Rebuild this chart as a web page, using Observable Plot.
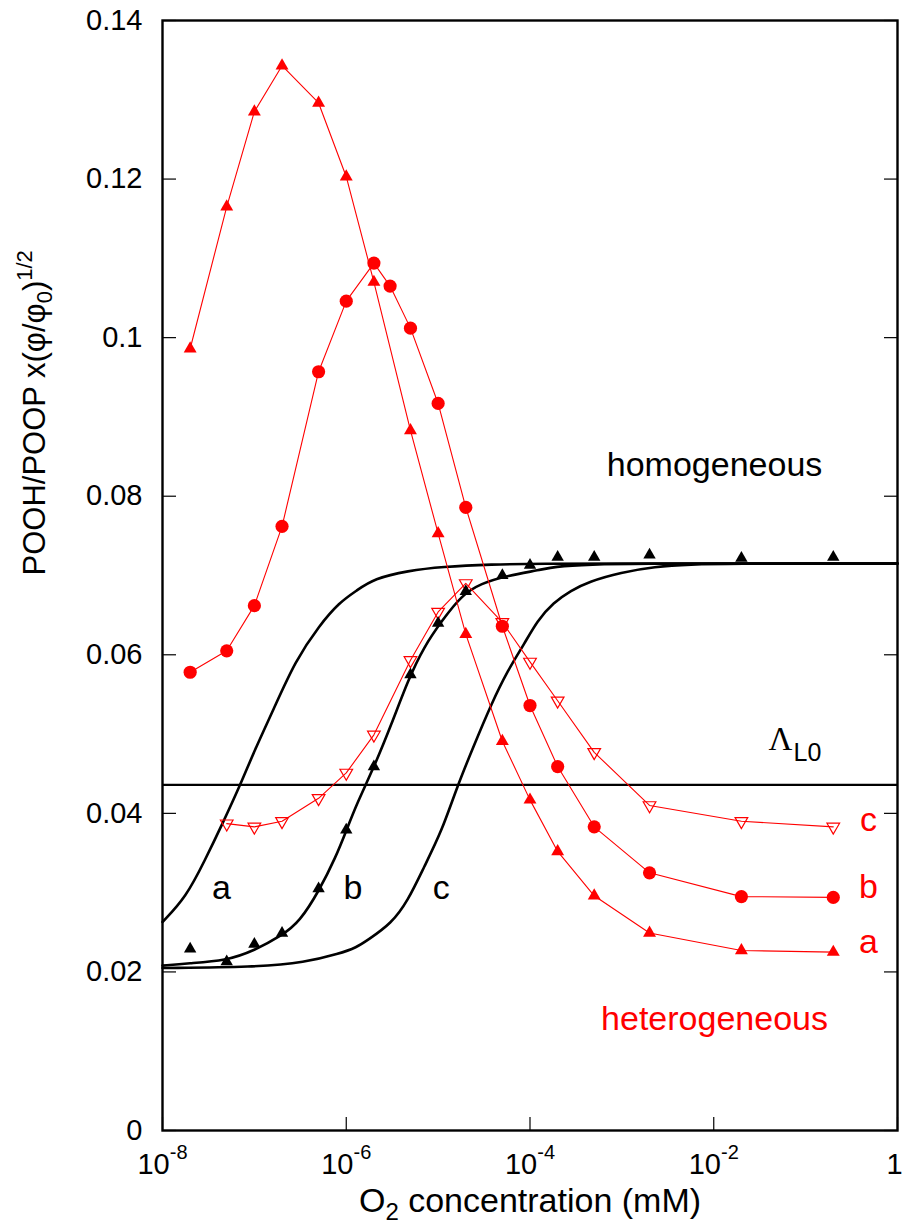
<!DOCTYPE html>
<html><head><meta charset="utf-8">
<script src="https://cdn.jsdelivr.net/npm/d3@7"></script>
<script src="https://cdn.jsdelivr.net/npm/@observablehq/plot@0.6"></script>
<style>body{margin:0;background:#fff;} svg{display:block}</style>
</head><body><div id="chart"></div>
<script>
// ---- data ----
const xTicks = [1e-8, 1e-6, 1e-4, 1e-2, 1];
const xTickLabels = ["10^-8", "10^-6", "10^-4", "10^-2", "1"];
const yTicks = [0, 0.02, 0.04, 0.06, 0.08, 0.1, 0.12, 0.14];
const yTickLabels = ["0", "0.02", "0.04", "0.06", "0.08", "0.1", "0.12", "0.14"];

// heterogeneous a (filled red triangles)
const hetAX = [2e-8, 5e-8, 1e-7, 2e-7, 5e-7, 1e-6, 2e-6, 5e-6, 1e-5, 2e-5, 5e-5, 1e-4, 2e-4, 5e-4, 2e-3, 2e-2, 2e-1];
const hetAY = [0.0986, 0.1165, 0.1285, 0.1343, 0.1296, 0.1203, 0.1070, 0.0883, 0.0753, 0.0626, 0.0491, 0.0417, 0.0352, 0.0296, 0.0249, 0.0227, 0.0225];
// heterogeneous b (filled red circles)
const hetBX = [2e-8, 5e-8, 1e-7, 2e-7, 5e-7, 1e-6, 2e-6, 3e-6, 5e-6, 1e-5, 2e-5, 5e-5, 1e-4, 2e-4, 5e-4, 2e-3, 2e-2, 2e-1];
const hetBY = [0.0578, 0.0605, 0.0662, 0.0762, 0.0957, 0.1046, 0.1094, 0.1065, 0.1012, 0.0917, 0.0786, 0.0636, 0.0536, 0.0459, 0.0383, 0.0325, 0.0295, 0.0294];
// heterogeneous c (open red inverted triangles)
const hetCX = [5e-8, 1e-7, 2e-7, 5e-7, 1e-6, 2e-6, 5e-6, 1e-5, 2e-5, 5e-5, 1e-4, 2e-4, 5e-4, 2e-3, 2e-2, 2e-1];
const hetCY = [0.0387, 0.0383, 0.0390, 0.0419, 0.0451, 0.0499, 0.0593, 0.0654, 0.0690, 0.0641, 0.0591, 0.0542, 0.0477, 0.0410, 0.0390, 0.0383];
// homogeneous data (black triangles)
const homX = [2e-8, 5e-8, 1e-7, 2e-7, 5e-7, 1e-6, 2e-6, 5e-6, 1e-5, 2e-5, 5e-5, 1e-4, 2e-4, 5e-4, 2e-3, 2e-2, 2e-1];
const homY = [0.0229, 0.0213, 0.0235, 0.0249, 0.0305, 0.0379, 0.0459, 0.0575, 0.0640, 0.0680, 0.0700, 0.0713, 0.0723, 0.0723, 0.0726, 0.0722, 0.0723];

// homogeneous model curves a, b, c
const curveAX = [1e-8, 1.8e-8, 2.9e-8, 4.5e-8, 7.1e-8, 1.0e-7, 1.6e-7, 2.8e-7, 5.1e-7, 8.4e-7, 1.3e-6, 2.0e-6, 4.7e-6, 1.1e-5, 3.8e-5, 1.3e-4, 1e-3, 1e-2, 1e-1, 1];
const curveAY = [0.0263, 0.0294, 0.0341, 0.0387, 0.0437, 0.0479, 0.0530, 0.0593, 0.0637, 0.0666, 0.0681, 0.0696, 0.0706, 0.0711, 0.0714, 0.0715, 0.0715, 0.0715, 0.0715, 0.0715];
const curveBX = [1e-8, 1.9e-8, 4.9e-8, 1.0e-7, 2.0e-7, 3.1e-7, 5.1e-7, 7.7e-7, 1.0e-6, 1.3e-6, 2.0e-6, 3.1e-6, 4.7e-6, 7.0e-6, 1.1e-5, 1.8e-5, 2.9e-5, 5.7e-5, 1.3e-4, 1.8e-4, 4.3e-4, 2e-3, 1e-2, 1e-1, 1];
const curveBY = [0.0208, 0.0211, 0.0214, 0.0227, 0.0246, 0.0263, 0.0303, 0.0345, 0.0378, 0.0412, 0.0458, 0.0512, 0.0568, 0.0610, 0.0643, 0.0675, 0.0690, 0.0700, 0.0707, 0.0711, 0.0714, 0.0715, 0.0715, 0.0715, 0.0715];
const curveCX = [1e-8, 1e-7, 3.6e-7, 8.4e-7, 1.3e-6, 1.7e-6, 3.1e-6, 4.7e-6, 7.0e-6, 1.1e-5, 1.6e-5, 2.5e-5, 3.8e-5, 5.7e-5, 8.7e-5, 1.2e-4, 1.8e-4, 2.8e-4, 4.3e-4, 9.8e-4, 2.3e-3, 5.2e-3, 2e-2, 1e-1, 1];
const curveCY = [0.0205, 0.0206, 0.0212, 0.0223, 0.0231, 0.0240, 0.0261, 0.0290, 0.0332, 0.0378, 0.0433, 0.0488, 0.0538, 0.0580, 0.0614, 0.0643, 0.0666, 0.0681, 0.0692, 0.0704, 0.0711, 0.0714, 0.0715, 0.0715, 0.0715];

const lambdaL0 = 0.0436;

// ---- tables ----
const zip = (X, Y, s) => X.map((x, i) => ({x, y: Y[i], s}));
const hetA = zip(hetAX, hetAY), hetB = zip(hetBX, hetBY), hetC = zip(hetCX, hetCY), hom = zip(homX, homY);
const curves = [...zip(curveAX, curveAY, "a"), ...zip(curveBX, curveBY, "b"), ...zip(curveCX, curveCY, "c")];

const RED = "#ff0000";
const sans = "'Liberation Sans', Arial, Helvetica, sans-serif";
const XLABEL = "O2 concentration (mM)";
const YLABEL = "POOH/POOP x(φ/φ0)1/2";

const svg = Plot.plot({
  width: 904, height: 1230,
  marginLeft: 162, marginRight: 7, marginTop: 20, marginBottom: 100,
  style: {fontFamily: sans, background: "white", color: "black"},
  x: {type: "log", domain: [1e-8, 1]},
  y: {domain: [0, 0.14]},
  marks: [
    Plot.axisY({ticks: yTicks, tickSize: -14, tickPadding: 34, fontSize: 29, strokeWidth: 1.2,
      tickFormat: d => yTickLabels[yTicks.indexOf(d)], label: null}),
    Plot.axisY({anchor: "right", ticks: yTicks, tickSize: -14, strokeWidth: 1.2, tickFormat: () => "", label: null}),
    Plot.axisX({ticks: xTicks, tickSize: -13, tickPadding: 36, fontSize: 29, strokeWidth: 1.2,
      tickFormat: d => xTickLabels[xTicks.indexOf(d)], label: null}),
    Plot.ruleY([lambdaL0], {stroke: "black", strokeWidth: 2.2}),
    Plot.line(curves, {x: "x", y: "y", z: "s", stroke: "black", strokeWidth: 2.6, curve: "basis"}),
    Plot.line(hetA, {x: "x", y: "y", stroke: RED, strokeWidth: 1.1}),
    Plot.line(hetB, {x: "x", y: "y", stroke: RED, strokeWidth: 1.1}),
    Plot.line(hetC, {x: "x", y: "y", stroke: RED, strokeWidth: 1.1}),
    Plot.dot(hetA, {x: "x", y: "y", symbol: "triangle", r: 4.8, fill: RED, stroke: "none"}),
    Plot.dot(hetB, {x: "x", y: "y", symbol: "circle", r: 6.6, fill: RED, stroke: "none"}),
    Plot.dot(hetC, {x: "x", y: "y", symbol: "triangle", rotate: 180, r: 4.7, fill: "none", stroke: RED, strokeWidth: 1.2}),
    Plot.dot(hom, {x: "x", y: "y", symbol: "triangle", r: 4.6, fill: "black", stroke: "none"}),
    Plot.text(["homogeneous"], {text: d => d, x: 1.02e-2, y: 0.0839, fontSize: 34, fill: "black"}),
    Plot.text(["heterogeneous"], {text: d => d, x: 1.02e-2, y: 0.0140, fontSize: 34, fill: RED}),
    Plot.text(["a", "b", "c"], {text: d => d, x: d => ({a: 4.38e-8, b: 1.18e-6, c: 1.08e-5})[d], y: 0.0306, fontSize: 34, fill: "black"}),
    Plot.text(["c", "b", "a"], {text: d => d, x: 0.483, y: d => ({c: 0.0391, b: 0.0307, a: 0.0237})[d], fontSize: 34, fill: RED}),
    Plot.text(["Λ"], {text: d => d, x: 0.0395, y: 0.0493, textAnchor: "start", fontSize: 33, fontFamily: "'Liberation Serif', 'Times New Roman', serif"}),
    Plot.text(["L0"], {text: d => d, x: 0.0395, y: 0.0493, textAnchor: "start", dx: 25, dy: 13.6, fontSize: 25}),
    Plot.text([XLABEL], {text: d => d, frameAnchor: "bottom", dy: 81, fontSize: 34}),
    Plot.text([YLABEL], {text: d => d, frameAnchor: "left", dx: -127, rotate: -90, fontSize: 31}),
    Plot.frame({stroke: "black", strokeWidth: 2.4})
  ]
});

// ---- rich text (superscripts / subscripts) ----
const NS = "http://www.w3.org/2000/svg";
function rich(t, segs) {
  t.textContent = "";
  for (const s of segs) {
    const ts = document.createElementNS(NS, "tspan");
    ts.textContent = s.t;
    if (s.size) ts.setAttribute("font-size", s.size);
    if (s.dy) ts.setAttribute("dy", s.dy);
    t.appendChild(ts);
  }
}
svg.querySelectorAll("text").forEach(t => {
  const s = t.textContent;
  if (s.includes("^")) {
    const [b, e] = s.split("^");
    rich(t, [{t: b}, {t: e, size: 20, dy: -15}]);
  } else if (s === "1" && t.closest('[aria-label="x-axis tick label"]')) {
    t.setAttribute("dx", "-3");
  } else if (s === XLABEL) {
    rich(t, [{t: "O"}, {t: "2", size: 24, dy: 8}, {t: " concentration (mM)", dy: -8}]);
  } else if (s === YLABEL) {
    rich(t, [{t: "POOH/POOP x(φ/φ"}, {t: "0", size: 22, dy: 7}, {t: ")", dy: -7}, {t: "1/2", size: 22, dy: -13}]);
  }
});

document.getElementById("chart").appendChild(svg);
</script></body></html>
